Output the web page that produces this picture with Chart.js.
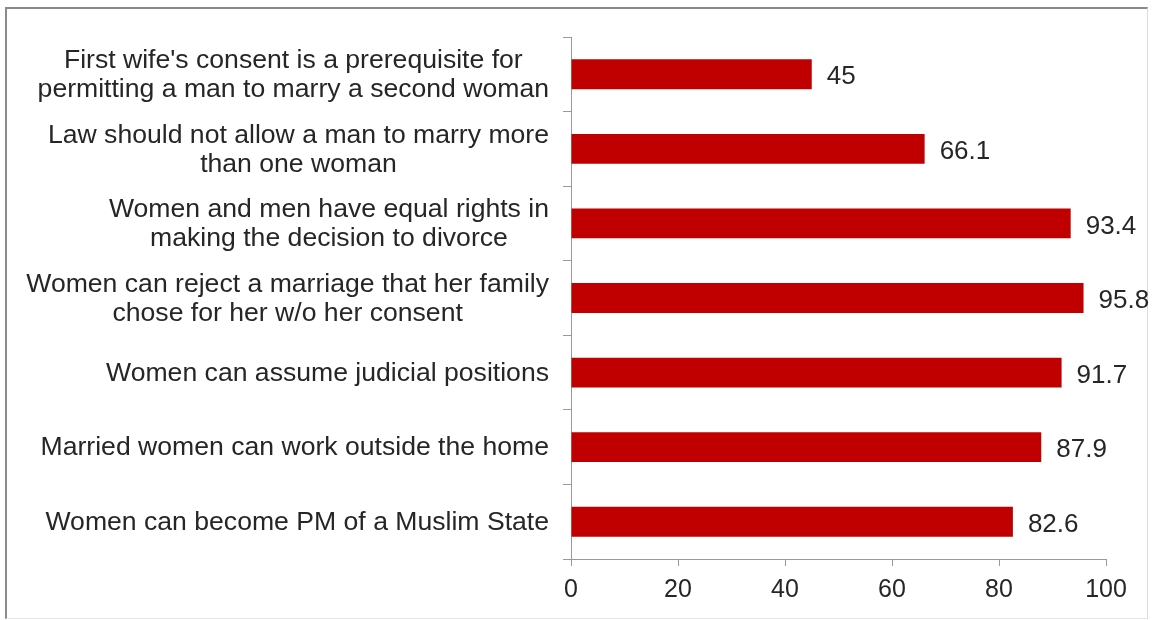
<!DOCTYPE html>
<html>
<head>
<meta charset="utf-8">
<script src="https://cdn.jsdelivr.net/npm/chart.js@4"></script>
<style>
  html, body { margin: 0; padding: 0; background: #fff; }
  #frame {
    position: absolute; left: 5px; top: 7px; width: 1140px; height: 609px;
    border-left: 2px solid #8a8a8a; border-top: 2px solid #8a8a8a;
    border-right: 1px solid #dcdcdc; border-bottom: 1px solid #e4e4e4;
  }
  #wrap { position: absolute; left: 0; top: 0; width: 1152px; height: 620px; }
</style>
</head>
<body>
<div id="frame"></div>
<div id="wrap"><canvas id="attitudes"></canvas></div>
<script>
// survey statements, each split into the lines they are printed on
const categories = [
  ["First wife's consent is a prerequisite for", "permitting a man to marry a second woman"],
  ["Law should not allow a man to marry more", "than one woman"],
  ["Women and men have equal rights in", "making the decision to divorce"],
  ["Women can reject a marriage that her family", "chose for her w/o her consent"],
  ["Women can assume judicial positions"],
  ["Married women can work outside the home"],
  ["Women can become PM of a Muslim State"],
];
const agreePercent = [45, 66.1, 93.4, 95.8, 91.7, 87.9, 82.6];
const xMin = 0;
const xMax = 100;
const xStep = 20;

const FONT = '"Liberation Sans", Arial, sans-serif';
const TEXT = "#262626";
const AXIS = "#9a9a9a";

// draws the multi-line statements, each block centred on itself and right-aligned to the axis
const categoryLabels = {
  id: "categoryLabels",
  afterDraw(chart) {
    const ctx = chart.ctx;
    const yScale = chart.scales.y;
    const right = chart.chartArea.left - 22;
    const lineH = 29;
    ctx.save();
    ctx.font = "26.6px " + FONT;
    ctx.fillStyle = TEXT;
    ctx.textAlign = "center";
    ctx.textBaseline = "middle";
    categories.forEach((lines, i) => {
      const cy = yScale.getPixelForValue(i) + 1;
      const w = Math.max(...lines.map((l) => ctx.measureText(l).width));
      const cx = right - w / 2;
      lines.forEach((line, j) => {
        ctx.fillText(line, cx, cy + (j - (lines.length - 1) / 2) * lineH);
      });
    });
    ctx.restore();
  },
};

// value printed just past the end of each bar
const valueLabels = {
  id: "valueLabels",
  afterDatasetsDraw(chart) {
    const ctx = chart.ctx;
    const meta = chart.getDatasetMeta(0);
    ctx.save();
    ctx.font = "26px " + FONT;
    ctx.fillStyle = TEXT;
    ctx.textAlign = "left";
    ctx.textBaseline = "middle";
    meta.data.forEach((bar, i) => {
      ctx.fillText(String(agreePercent[i]), bar.x + 15, bar.y + 3);
    });
    ctx.restore();
  },
};

new Chart(document.getElementById("attitudes").getContext("2d"), {
  type: "bar",
  data: {
    labels: categories.map((c) => c.join(" ")),
    datasets: [
      {
        data: agreePercent,
        backgroundColor: "#c00000",
        borderWidth: 0,
        barPercentage: 0.4,
        categoryPercentage: 1,
      },
    ],
  },
  options: {
    indexAxis: "y",
    responsive: true,
    maintainAspectRatio: false,
    animation: false,
    layout: { padding: { top: 37, right: 46, bottom: 0, left: 0 } },
    plugins: {
      legend: { display: false },
      tooltip: { enabled: false },
    },
    scales: {
      x: {
        min: xMin,
        max: xMax,
        ticks: {
          stepSize: xStep,
          color: TEXT,
          font: { family: FONT, size: 25 },
          padding: 9,
        },
        grid: { drawOnChartArea: false, drawTicks: true, tickLength: 7, color: AXIS },
        border: { color: AXIS, width: 1 },
        afterFit(scale) { scale.height = 61; },
      },
      y: {
        ticks: { display: false },
        grid: { drawOnChartArea: false, drawTicks: true, tickLength: 8, color: AXIS, offset: true },
        border: { color: AXIS, width: 1 },
        afterFit(scale) { scale.width = 571; },
      },
    },
  },
  plugins: [categoryLabels, valueLabels],
});
</script>
</body>
</html>
